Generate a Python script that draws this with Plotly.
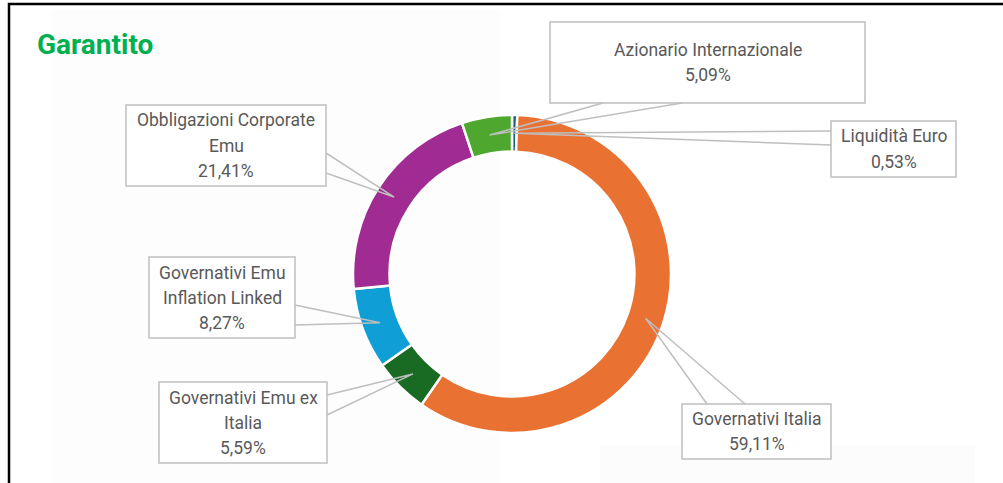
import plotly.graph_objects as go
import math

# ---- data ----
labels = ["Liquidità Euro", "Governativi Italia", "Governativi Emu ex Italia",
          "Governativi Emu Inflation Linked", "Obbligazioni Corporate Emu",
          "Azionario Internazionale"]
label_lines = [["Liquidità Euro"], ["Governativi Italia"], ["Governativi Emu ex", "Italia"],
               ["Governativi Emu", "Inflation Linked"], ["Obbligazioni Corporate", "Emu"],
               ["Azionario Internazionale"]]
values = [0.53, 59.11, 5.59, 8.27, 21.41, 5.09]
colors = ["#156082", "#E97132", "#196B24", "#0F9ED5", "#A02B93", "#4EA72E"]

W, H = 1003, 483
def px(x): return x / W
def py(y): return 1 - y / H

# donut geometry (pixels)
x0p, x1p, y0p, y1p = 353, 671, 115, 433
hole = 0.77
cx, cy = (x0p + x1p) / 2, (y0p + y1p) / 2
R = (x1p - x0p) / 2
rmid = R * (1 + hole) / 2

# callout boxes (pixels): x0, y0, x1, y1 ; wedge base points
boxes = [
    (831, 121, 956, 177), (682, 404, 831, 459), (159, 382, 327, 463),
    (149, 257, 295, 338), (126, 105, 326, 186), (550, 22, 865, 103),
]
bases = [
    ((831, 131), (831, 145)), ((707, 404), (745, 404)), ((327, 395), (327, 415)),
    ((295, 305), (295, 325)), ((326, 153), (326, 173)), ((603, 103), (682, 103)),
]

fig = go.Figure(go.Pie(
    labels=labels, values=values, hole=hole, sort=False, direction="clockwise",
    rotation=0, marker=dict(colors=colors, line=dict(color="white", width=2.5)),
    textinfo="none", hoverinfo="label+percent", showlegend=False,
    domain=dict(x=[px(x0p), px(x1p)], y=[py(y1p), py(y0p)]),
))

shapes = []
# faint background panels
shapes.append(dict(type="rect", xref="paper", yref="paper", x0=px(52), x1=px(500), y0=py(483), y1=py(10),
                   fillcolor="#fdfdfd", line=dict(width=0), layer="below"))
shapes.append(dict(type="rect", xref="paper", yref="paper", x0=px(600), x1=px(975), y0=py(483), y1=py(445),
                   fillcolor="#fcfcfc", line=dict(width=0), layer="below"))
# outer frame
shapes.append(dict(type="rect", xref="paper", yref="paper", x0=px(9), x1=px(1015), y0=py(495), y1=py(4),
                   fillcolor="rgba(0,0,0,0)", line=dict(color="black", width=2.5)))

annotations = []
total = sum(values)
cum = 0
for i, v in enumerate(values):
    mid = (cum + v / 2) / total * 2 * math.pi
    cum += v
    tx, ty = cx + rmid * math.sin(mid), cy - rmid * math.cos(mid)
    (bx0, by0, bx1, by1) = boxes[i]
    shapes.append(dict(type="rect", xref="paper", yref="paper", x0=px(bx0), x1=px(bx1), y0=py(by1), y1=py(by0),
                       fillcolor="white", line=dict(color="#BFBFBF", width=1.5)))
    (a, b) = bases[i]
    path = f"M {px(a[0])},{py(a[1])} L {px(tx)},{py(ty)} L {px(b[0])},{py(b[1])}"
    shapes.append(dict(type="path", xref="paper", yref="paper", path=path,
                       line=dict(color="#BFBFBF", width=1.5)))
    lines = label_lines[i] + [f"{v:.2f}".replace(".", ",") + "%"]
    n = len(lines)
    mcy = (by0 + by1) / 2
    for j, t in enumerate(lines):
        ly = mcy + (j - (n - 1) / 2) * 25
        annotations.append(dict(x=px((bx0 + bx1) / 2), y=py(ly), xref="paper", yref="paper",
                                text=t, showarrow=False, xanchor="center", yanchor="middle",
                                font=dict(family="Roboto", size=17.5, color="#595959")))

annotations.append(dict(x=px(35), y=py(45), xref="paper", yref="paper", text="<b>Garantito</b>",
                        showarrow=False, xanchor="left", yanchor="middle",
                        font=dict(family="Roboto", size=28, color="#00B050")))

fig.update_layout(width=W, height=H, margin=dict(l=0, r=0, t=0, b=0),
                  paper_bgcolor="white", plot_bgcolor="white",
                  shapes=shapes, annotations=annotations)
fig.write_html("out.html", config={"displayModeBar": False},
               post_script="document.body.style.margin='0';")
